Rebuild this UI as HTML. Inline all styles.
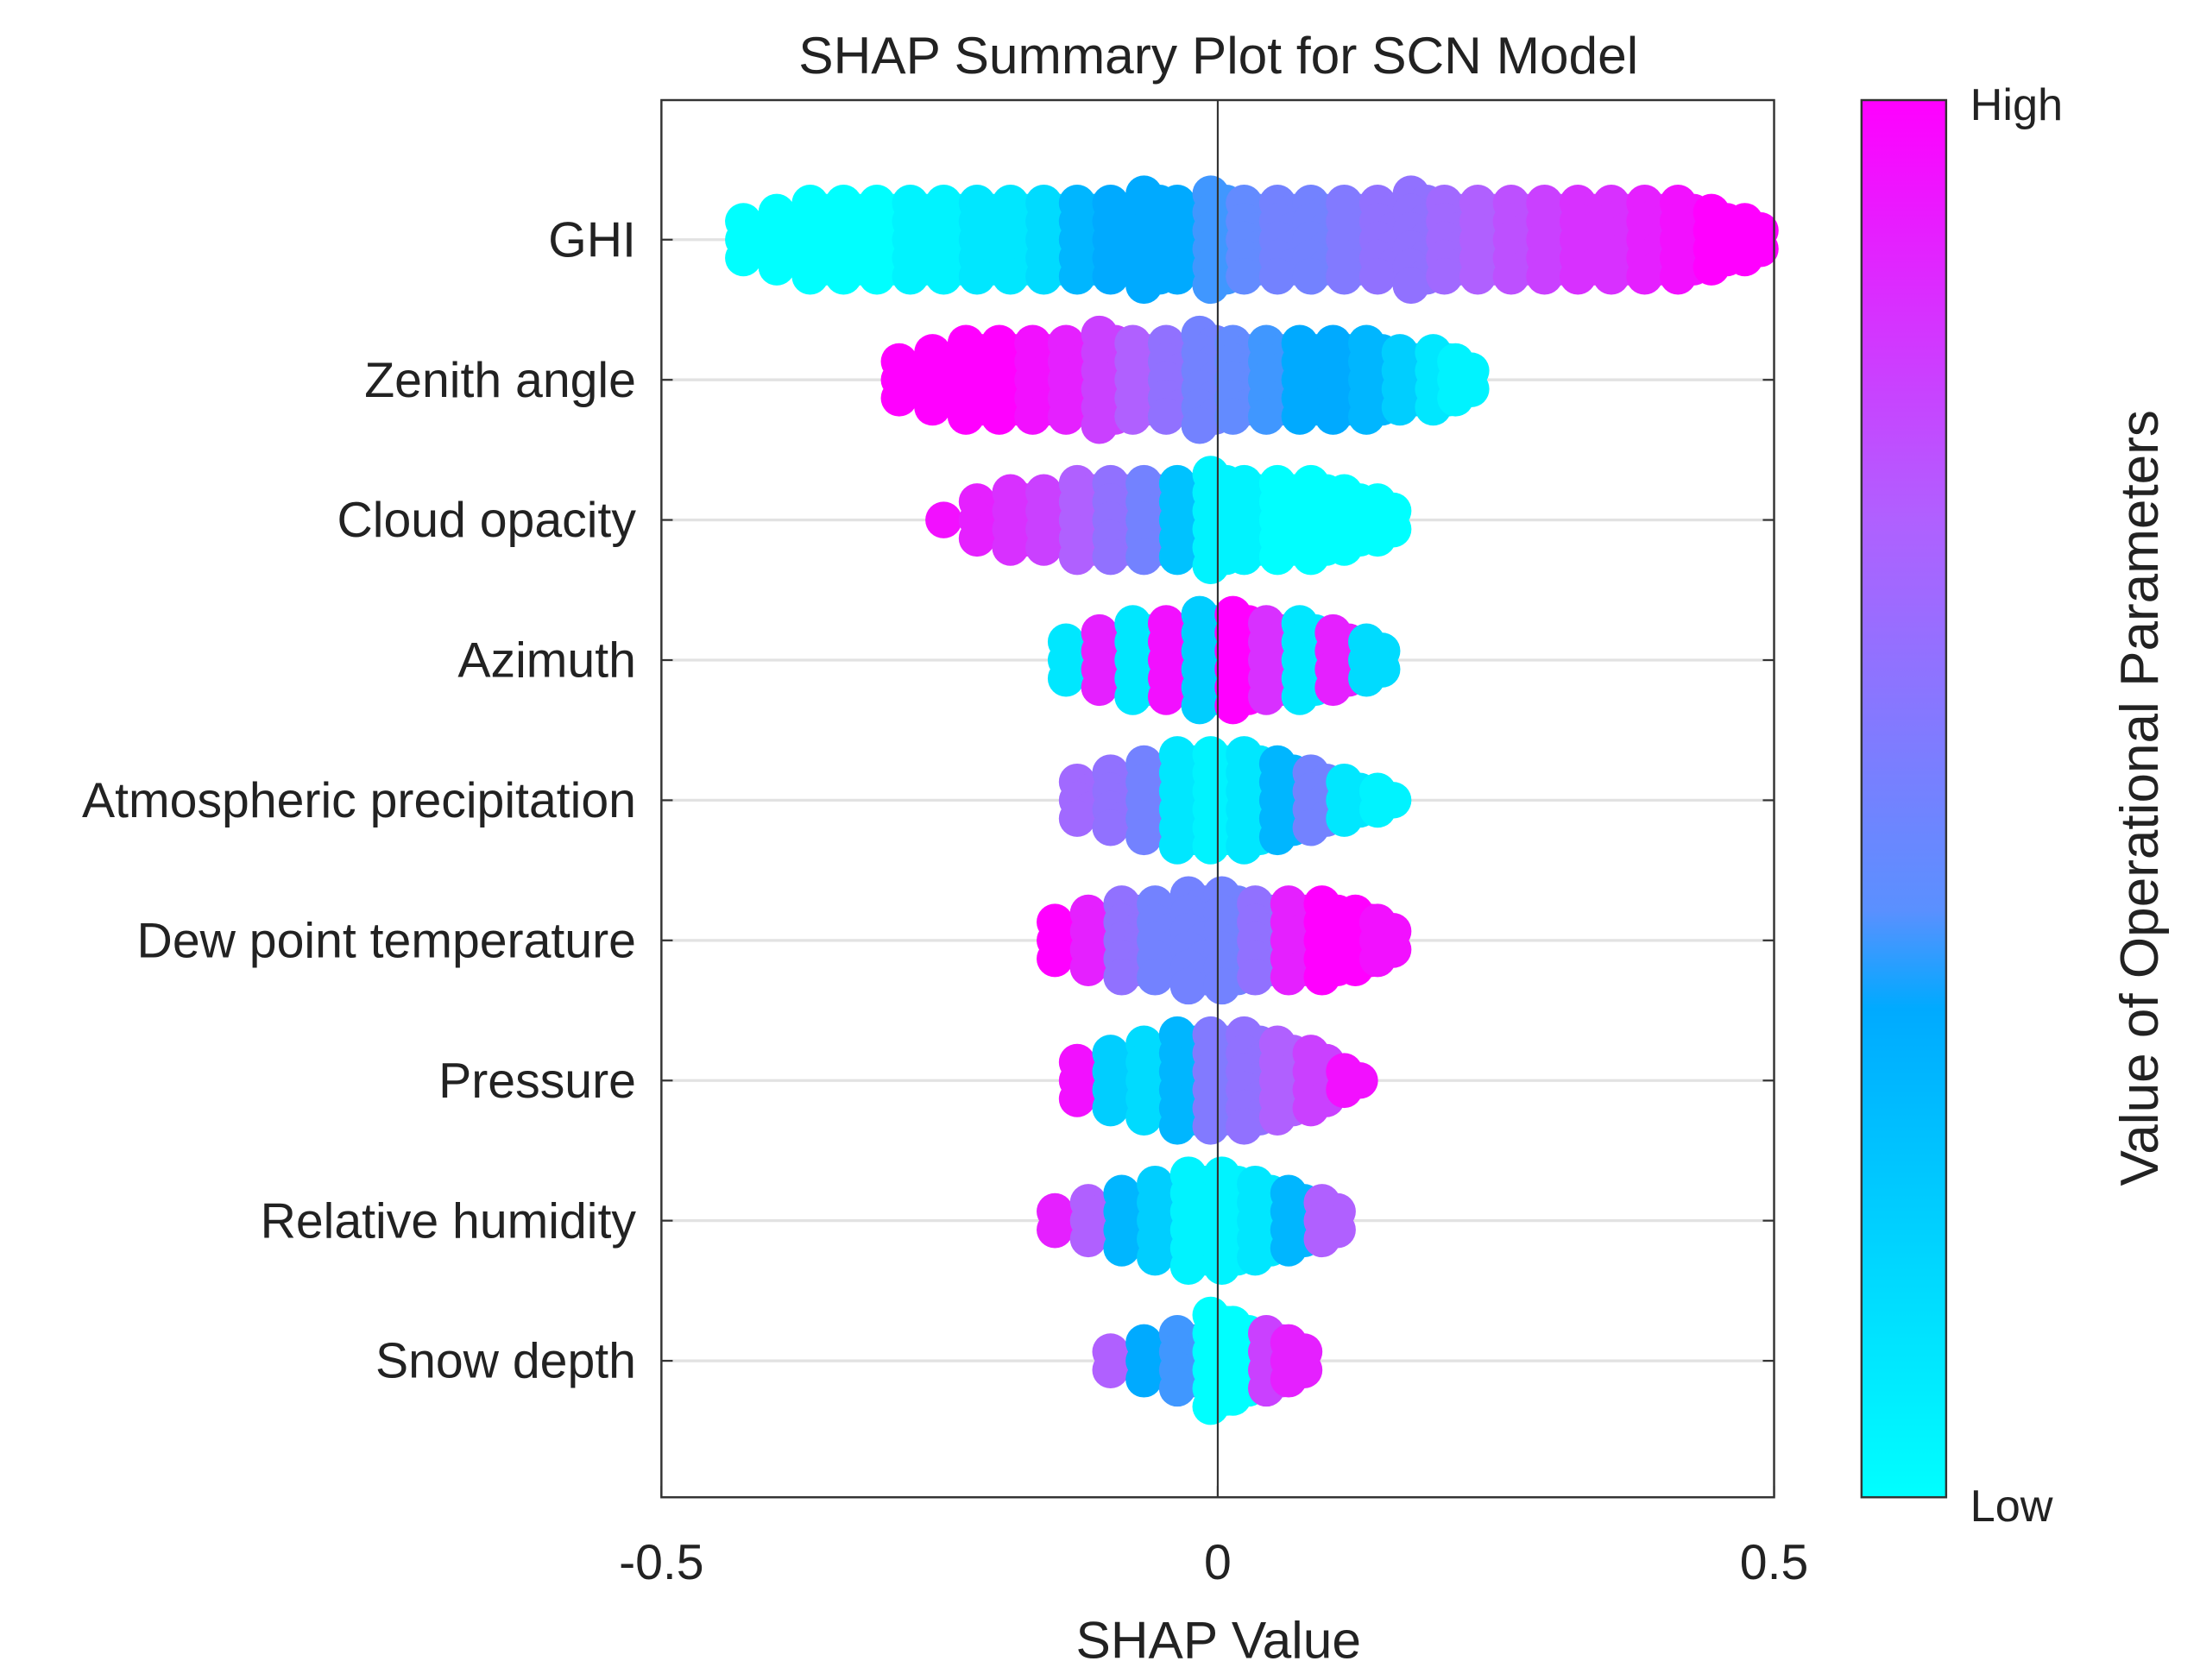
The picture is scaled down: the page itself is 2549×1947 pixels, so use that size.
<!DOCTYPE html>
<html><head><meta charset="utf-8"><style>
html,body{margin:0;padding:0;background:#fff}
svg{display:block}
text{font-family:"Liberation Sans",Arial,sans-serif;fill:#222}
</style></head><body>
<svg id="chart" width="2549" height="1947" viewBox="0 0 1560 1191.6" xmlns="http://www.w3.org/2000/svg">
<defs>
<linearGradient id="cb" x1="0" y1="1" x2="0" y2="0">
<stop offset="0" stop-color="#00ffff"/>
<stop offset="0.35" stop-color="#00aaff"/>
<stop offset="0.42" stop-color="#5a90ff"/>
<stop offset="0.7" stop-color="#b060ff"/>
<stop offset="1" stop-color="#ff00ff"/>
</linearGradient>
<clipPath id="plotclip"><rect x="469" y="71" width="800" height="991"/></clipPath>
</defs>
<text x="864" y="52" font-size="37" text-anchor="middle" fill="#111">SHAP Summary Plot for SCN Model</text>
<rect x="469" y="71" width="789" height="991" fill="#fff"/>
<g id="grid"></g>
<g id="dots" clip-path="url(#plotclip)"></g>
<line x1="863.5" y1="71" x2="863.5" y2="1062" stroke="#333" stroke-width="1.3"/>
<rect x="469" y="71" width="789" height="991" fill="none" stroke="#333" stroke-width="1.5"/>
<g id="ylabels"></g>
<g id="xticks"></g>
<text x="864" y="1176" font-size="37" text-anchor="middle">SHAP Value</text>
<rect x="1320" y="71" width="60" height="991" fill="url(#cb)" stroke="#333" stroke-width="1.5"/>
<text x="1397" y="85" font-size="32">High</text>
<text x="1397" y="1079" font-size="32">Low</text>
<text transform="translate(1530,566) rotate(-90)" font-size="38" text-anchor="middle">Value of Operational Parameters</text>
</svg>
<script>
const features = ["GHI","Zenith angle","Cloud opacity","Azimuth","Atmospheric precipitation","Dew point temperature","Pressure","Relative humidity","Snow depth"];
const xTicks = [-0.5, 0, 0.5];
const xTickLabels = ["-0.5","0","0.5"];
const ghiX = [-0.42,-0.39,-0.36,-0.33,-0.30,-0.27,-0.24,-0.21,-0.18,-0.15,-0.12,-0.09,-0.06,-0.03,0.00,0.03,0.06,0.09,0.12,0.15,0.18,0.21,0.24,0.27,0.30,0.33,0.36,0.39,0.42,0.45,0.48];
const ghiN = [3,4,5,5,5,5,5,5,5,5,5,5,6,5,6,5,5,5,5,5,6,5,5,5,5,5,5,5,5,4,3];
const ghiV = [0,0,0,0,0,0.05,0.05,0.1,0.1,0.15,0.3,0.35,0.35,0.35,0.4,0.45,0.5,0.5,0.55,0.6,0.6,0.65,0.7,0.75,0.8,0.85,0.85,0.9,0.95,1,1];
const zenX = [-0.28,-0.25,-0.22,-0.19,-0.16,-0.13,-0.10,-0.07,-0.04,-0.01,0.02,0.05,0.08,0.11,0.14,0.17,0.20,0.22];
const zenN = [3,4,5,5,5,5,6,5,5,6,5,5,5,5,5,4,4,3];
const zenV = [1,1,1,1,0.95,0.9,0.8,0.7,0.6,0.5,0.45,0.4,0.35,0.35,0.3,0.2,0.1,0.05];
const cloudX = [-0.24,-0.21,-0.18,-0.15,-0.12,-0.09,-0.06,-0.03,0.00,0.03,0.06,0.09,0.12,0.15];
const cloudN = [1,3,4,4,5,5,5,5,6,5,5,5,4,3];
const cloudV = [0.95,0.9,0.85,0.8,0.7,0.6,0.5,0.25,0.05,0.05,0,0,0,0];
const aziX = [-0.13,-0.10,-0.07,-0.04,-0.01,0.02,0.05,0.08,0.11,0.14];
const aziN = [3,4,5,5,6,6,5,5,4,3];
const aziV = [0.1,0.9,0.1,0.95,0.2,1,0.85,0.1,0.9,0.15];
const atmX = [-0.12,-0.09,-0.06,-0.03,0.00,0.03,0.06,0.09,0.12,0.15];
const atmN = [3,4,5,6,6,6,5,4,3,2];
const atmV = [0.65,0.6,0.5,0.1,0.05,0.1,0.3,0.5,0.1,0.05];
const dewX = [-0.14,-0.11,-0.08,-0.05,-0.02,0.01,0.04,0.07,0.10,0.13,0.15];
const dewN = [3,4,5,5,6,6,5,5,5,4,3];
const dewV = [1,0.9,0.6,0.5,0.5,0.5,0.6,0.9,1,1,0.95];
const presX = [-0.12,-0.09,-0.06,-0.03,0.00,0.03,0.06,0.09,0.12];
const presN = [3,4,5,6,6,6,5,4,2];
const presV = [0.95,0.2,0.15,0.3,0.55,0.6,0.7,0.8,0.95];
const rhX = [-0.14,-0.11,-0.08,-0.05,-0.02,0.01,0.04,0.07,0.10];
const rhN = [2,3,4,5,6,6,5,4,3];
const rhV = [0.9,0.7,0.3,0.2,0.05,0.05,0.1,0.3,0.7];
const snowX = [-0.09,-0.06,-0.03,0.00,0.02,0.05,0.07];
const snowN = [2,3,4,6,5,4,3];
const snowV = [0.7,0.35,0.4,0,0,0.8,0.9];

const rows = [[ghiX,ghiN,ghiV],[zenX,zenN,zenV],[cloudX,cloudN,cloudV],[aziX,aziN,aziV],[atmX,atmN,atmV],[dewX,dewN,dewV],[presX,presN,presV],[rhX,rhN,rhV],[snowX,snowN,snowV]];

const NS = "http://www.w3.org/2000/svg";
const X0 = 469, X1 = 1258, Y0 = 71, Y1 = 1062;
function xScale(v){ return X0 + (v + 0.5) / 1.0 * (X1 - X0); }
function yScale(i){ return 170 + i * 99.4; }
const stops = [[0,[0,255,255]],[0.35,[0,170,255]],[0.42,[90,144,255]],[0.7,[176,96,255]],[1,[255,0,255]]];
function colorOf(v){
  for(let k=1;k<stops.length;k++){
    if(v<=stops[k][0]){
      const a=stops[k-1], b=stops[k], t=(v-a[0])/(b[0]-a[0]);
      const c=a[1].map((q,j)=>Math.round(q+(b[1][j]-q)*t));
      return "rgb("+c.join(",")+")";
    }
  }
  return "rgb(255,0,255)";
}
function mk(tag, attrs){ const e=document.createElementNS(NS,tag); for(const k in attrs) e.setAttribute(k,attrs[k]); return e; }

const grid=document.getElementById("grid"), dots=document.getElementById("dots"), yl=document.getElementById("ylabels"), xt=document.getElementById("xticks");
features.forEach((f,i)=>{
  const y=yScale(i);
  const g=mk("line",{x1:X0,y1:y,x2:X1,y2:y,stroke:"#e2e2e2","stroke-width":2});
  
  
  grid.appendChild(g);
  const tl=mk("line",{x1:X0,y1:y,x2:X0+8,y2:y,stroke:"#333","stroke-width":1.3});
  
  
  grid.appendChild(tl);
  const tr=mk("line",{x1:X1-8,y1:y,x2:X1,y2:y,stroke:"#333","stroke-width":1.3});
  
  
  grid.appendChild(tr);
  const t=mk("text",{x:451,y:y+12,"font-size":35,"text-anchor":"end"});
  t.textContent=f;
  
  
  yl.appendChild(t);
  const [xs,ns,vs]=rows[i];
  const grp=mk("g",{});
  
  
  xs.forEach((xv,b)=>{
    const n=ns[b];
    const col=colorOf(vs[b]);
    for(let j=0;j<n;j++){
      const off=(j-(n-1)/2)*13;
      const c=mk("circle",{cx:xScale(xv)-5,cy:y+off,r:13,fill:col});
      
      
      grp.appendChild(c);
      if(j<n-1){
        const c2=mk("circle",{cx:xScale(xv)+6,cy:y+off+6.5,r:13,fill:col});
        
        
        grp.appendChild(c2);
      }
    }
  });
  dots.appendChild(grp);
});
xTicks.forEach((v,k)=>{
  const x=xScale(v);
  const a=mk("line",{x1:x,y1:Y1,x2:x,y2:Y1-8,stroke:"#333","stroke-width":1.3});
  
  
  xt.appendChild(a);
  const t=mk("text",{x:x,y:1120,"font-size":35,"text-anchor":"middle"});
  t.textContent=xTickLabels[k];
  
  
  xt.appendChild(t);
});
</script>
</body></html>
